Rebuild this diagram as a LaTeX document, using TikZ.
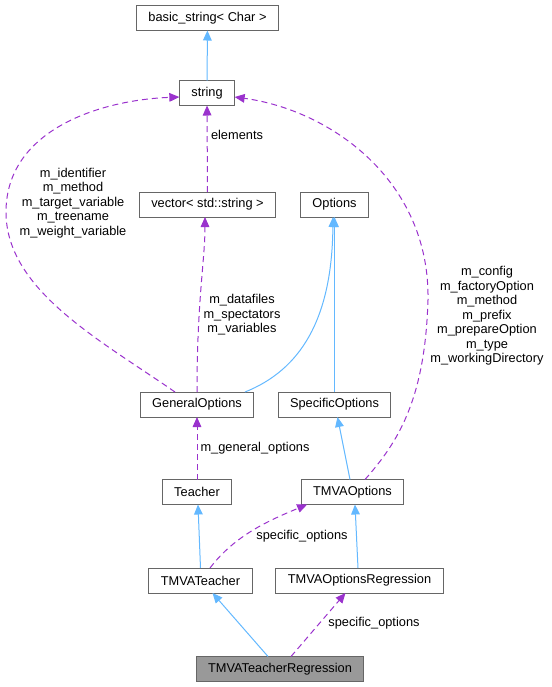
\documentclass[tikz,border=0pt]{standalone}
\usepackage{fontspec}
\setmainfont{Liberation Sans}
\usetikzlibrary{calc,arrows.meta}
\definecolor{c63b8ff}{RGB}{99,184,255}
\definecolor{c9a32cd}{RGB}{154,50,205}
\definecolor{c666666}{RGB}{102,102,102}
\definecolor{c999999}{RGB}{153,153,153}

\begin{document}
\begin{tikzpicture}[y=0.75pt,x=0.75pt,yscale=-1, inner sep=0pt, outer sep=0pt,
  classbox/.style={draw=c666666,fill=white,line width=0.75pt,minimum height=18.75pt,
    inner xsep=9pt,font=\fontsize{9.6}{10.9}\selectfont},
  inherit/.style={draw=c63b8ff,line width=0.75pt,-{Triangle[length=7.5pt,width=6.5pt]}},
  usage/.style={draw=c9a32cd,line width=0.75pt,dash pattern=on 4.5pt off 3pt,
    -{Triangle[length=7.5pt,width=6.5pt]}},
  edgelabel/.style={align=center,font=\fontsize{9.6}{10.9}\selectfont}]

  \useasboundingbox (0,0) rectangle (552,687);

  \path (207.5,18) node[classbox] (basicstr) {basic\_string< Char >};
  \path (207,93) node[classbox] (str) {string};
  \path (207.5,204.5) node[classbox] (vecstr) {vector< std::string >};
  \path (334.5,204.5) node[classbox] (opts) {Options};
  \path (197,404.5) node[classbox] (genopts) {GeneralOptions};
  \path (334.5,404.5) node[classbox] (specopts) {SpecificOptions};
  \path (197,492) node[classbox] (teacher) {Teacher};
  \path (352.5,492) node[classbox] (tmvaopts) {TMVAOptions};
  \path (200.5,580.5) node[classbox] (tmvateacher) {TMVATeacher};
  \path (359.5,580.5) node[classbox] (tmvaoptsreg) {TMVAOptionsRegression};
  \path (280,669) node[classbox,fill=c999999] (tmvateacherreg) {TMVATeacherRegression};

  \draw[inherit] (str) -- (basicstr);
  \draw[usage] (vecstr) -- (str);
  \path (237,135) node[edgelabel] (lblelements) {elements};

  \draw[usage] ($(genopts.north)+(-22,0)$) .. controls (100,340) and (6,290) ..
    (6,212) .. controls (6,130) and (100,100) .. ($(str.west)+(0,4)$);
  \path (73,203) node[edgelabel] (lblgenstr)
    {m\_identifier\\m\_method\\m\_target\_variable\\m\_treename\\m\_weight\_variable};

  \draw[usage] ($(tmvaopts.north)+(12.5,0)$) .. controls (398,442) and (425,400) ..
    (428,300) .. controls (430,180) and (330,110) .. ($(str.east)+(0,4)$);
  \path (487,316) node[edgelabel] (lbltmvastr)
    {m\_config\\m\_factoryOption\\m\_method\\m\_prefix\\m\_prepareOption\\m\_type\\m\_workingDirectory};

  \draw[usage] (genopts.north) .. controls (197,300) and (205,260) ..
    ($(vecstr.south)+(-2.5,0)$);
  \path (242,315) node[edgelabel] (lblgenvec)
    {m\_datafiles\\m\_spectators\\m\_variables};

  \draw[inherit] ($(genopts.north)+(48,0)$) .. controls (300,370) and (332,320) ..
    ($(opts.south)+(-1.5,0)$);
  \draw[inherit] (specopts) -- (opts);

  \draw[usage] (teacher) -- (genopts);
  \path (255,448) node[edgelabel] (lblgeneral) {m\_general\_options};

  \draw[inherit] ($(tmvaopts.north)+(-2.5,0)$) -- ($(specopts.south)+(3,0)$);
  \draw[inherit] (tmvateacher.north) -- ($(teacher.south)+(1,0)$);

  \draw[usage] ($(tmvateacher.north)+(9.5,0)$) .. controls (235,535) and (270,520) ..
    ($(tmvaopts.south west)+(6,0)$);
  \path (302,536) node[edgelabel] (lblspecific) {specific\_options};

  \draw[inherit] ($(tmvaoptsreg.north)+(-1.5,0)$) -- ($(tmvaopts.south)+(2.5,0)$);
  \draw[inherit] ($(tmvateacherreg.north)+(-12,0)$) -- ($(tmvateacher.south)+(12,0)$);
  \draw[usage] ($(tmvateacherreg.north)+(11,0)$) -- ($(tmvaoptsreg.south)+(-14,0)$);
  \path (374,623) node[edgelabel] (lblspecificreg) {specific\_options};
\end{tikzpicture}
\end{document}
